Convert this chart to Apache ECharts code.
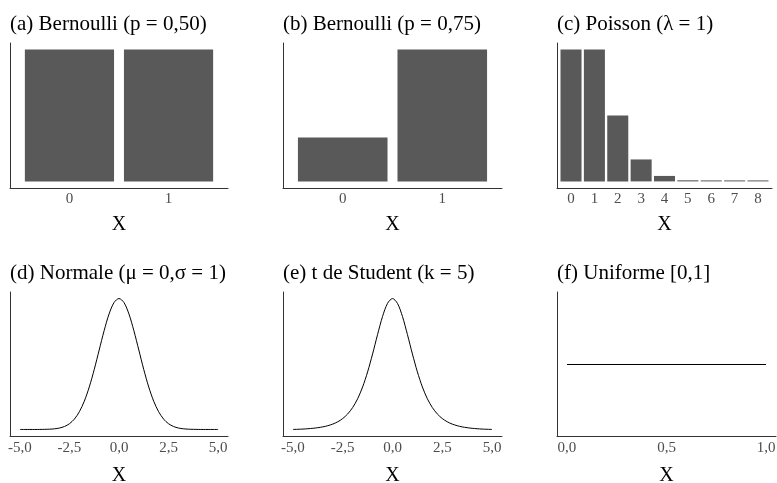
<!DOCTYPE html>
<html>
<head>
<meta charset="utf-8">
<script src="https://cdn.jsdelivr.net/npm/echarts@6/dist/echarts.min.js"></script>
<style>html,body{margin:0;padding:0;background:#fff}#c{width:777px;height:483px}</style>
</head>
<body>
<div id="c"></div>
<script>
// ---- data ----
const titles = ['(a) Bernoulli (p = 0,50)', '(b) Bernoulli (p = 0,75)', '(c) Poisson (λ = 1)',
                '(d) Normale (μ = 0,σ = 1)', '(e) t de Student (k = 5)', '(f) Uniforme [0,1]'];
const bernA_x = [0, 1];
const bernA_y = [0.5, 0.5];
const bernB_x = [0, 1];
const bernB_y = [0.25, 0.75];
const pois_x = [0, 1, 2, 3, 4, 5, 6, 7, 8];
const pois_y = [0.3679, 0.3679, 0.1839, 0.0613, 0.0153, 0.0031, 0.0005, 0.0001, 0.0000];
const dens_x = [-5,-4.75,-4.5,-4.25,-4,-3.75,-3.5,-3.25,-3,-2.75,-2.5,-2.25,-2,-1.75,-1.5,-1.25,-1,-0.75,-0.5,-0.25,0,
                0.25,0.5,0.75,1,1.25,1.5,1.75,2,2.25,2.5,2.75,3,3.25,3.5,3.75,4,4.25,4.5,4.75,5];
const norm_y = [0.0000,0.0000,0.0000,0.0000,0.0001,0.0004,0.0009,0.0020,0.0044,0.0091,0.0175,0.0317,0.0540,0.0863,0.1295,0.1826,0.2420,0.3011,0.3521,0.3867,0.3989,
                0.3867,0.3521,0.3011,0.2420,0.1826,0.1295,0.0863,0.0540,0.0317,0.0175,0.0091,0.0044,0.0020,0.0009,0.0004,0.0001,0.0000,0.0000,0.0000,0.0000];
const t5_y = [0.0018,0.0023,0.0029,0.0039,0.0051,0.0069,0.0092,0.0126,0.0173,0.0239,0.0333,0.0466,0.0651,0.0905,0.1245,0.1679,0.2197,0.2757,0.3279,0.3657,0.3796,
              0.3657,0.3279,0.2757,0.2197,0.1679,0.1245,0.0905,0.0651,0.0466,0.0333,0.0239,0.0173,0.0126,0.0092,0.0069,0.0051,0.0039,0.0029,0.0023,0.0018];
const unif_x = [0, 1];
const unif_y = [1, 1];
const ticksBern = [0, 1];
const ticksPois = [0, 1, 2, 3, 4, 5, 6, 7, 8];
const ticksDens = [-5, -2.5, 0, 2.5, 5];
const ticksUnif = [0, 0.5, 1];

// ---- layout ----
const SERIF = "'Liberation Serif', 'DejaVu Serif', serif";
const grids = [
  {left: 10,  top: 43,  width: 218, height: 145},
  {left: 283, top: 43,  width: 219, height: 145},
  {left: 557, top: 43,  width: 215, height: 145},
  {left: 10,  top: 292, width: 218, height: 144},
  {left: 283, top: 292, width: 219, height: 144},
  {left: 557, top: 292, width: 219, height: 144}
];
const xr = [[-0.6, 1.6], [-0.6, 1.6], [-0.6, 8.6], [-5.5, 5.5], [-5.5, 5.5], [-0.05, 1.05]];
const yr = [[-0.025, 0.525], [-0.0375, 0.7875], [-0.0184, 0.3863], [-0.0199, 0.4188], [-0.0171, 0.3985], [0, 2.014]];
const xticks = [ticksBern, ticksBern, ticksPois, ticksDens, ticksDens, ticksUnif];
const fmtInt = v => String(Math.round(v));
const fmtDec = v => v.toFixed(1).replace('.', ',');
const fmts = [fmtInt, fmtInt, fmtInt, fmtDec, fmtDec, fmtDec];
const nameGaps = [27, 27, 27, 30, 30, 30];
const labelMargins = [4, 4, 4, 5, 5, 5];

const option = {
  animation: false,
  backgroundColor: '#fff',
  title: titles.map((t, i) => ({
    text: t, left: grids[i].left, top: grids[i].top - 29, padding: 0,
    textStyle: {fontFamily: SERIF, fontSize: 21, fontWeight: 'normal', color: '#000'}
  })),
  grid: grids.map(g => Object.assign({containLabel: false, outerBoundsMode: 'none'}, g)),
  xAxis: grids.map((g, i) => ({
    type: 'value', gridIndex: i, min: xr[i][0], max: xr[i][1],
    name: 'X', nameLocation: 'middle', nameGap: nameGaps[i],
    nameTextStyle: {fontFamily: SERIF, fontSize: 20, color: '#000'},
    axisLine: {show: true, onZero: false, lineStyle: {color: '#333', width: 1}},
    axisTick: {show: false},
    splitLine: {show: false},
    axisLabel: {customValues: xticks[i], formatter: fmts[i], margin: labelMargins[i],
                fontFamily: SERIF, fontSize: 15, color: '#4d4d4d'}
  })),
  yAxis: grids.map((g, i) => ({
    type: 'value', gridIndex: i, min: yr[i][0], max: yr[i][1],
    axisLine: {show: true, onZero: false, lineStyle: {color: '#333', width: 1}},
    axisTick: {show: false}, axisLabel: {show: false}, splitLine: {show: false}
  })),
  series: []
};

function barW(i) { return 0.9 * grids[i].width / (xr[i][1] - xr[i][0]); }
function pairs(xs, ys) { return xs.map((x, k) => [x, ys[k]]); }

option.series.push(
  {type: 'bar', xAxisIndex: 0, yAxisIndex: 0, data: pairs(bernA_x, bernA_y), barWidth: barW(0), itemStyle: {color: '#595959'}},
  {type: 'bar', xAxisIndex: 1, yAxisIndex: 1, data: pairs(bernB_x, bernB_y), barWidth: barW(1), itemStyle: {color: '#595959'}},
  {type: 'bar', xAxisIndex: 2, yAxisIndex: 2, data: pairs(pois_x, pois_y), barWidth: barW(2), barMinHeight: 1, itemStyle: {color: '#595959'}},
  {type: 'line', xAxisIndex: 3, yAxisIndex: 3, data: pairs(dens_x, norm_y), showSymbol: false, smooth: 0.3,
   lineStyle: {color: '#000', width: 1}},
  {type: 'line', xAxisIndex: 4, yAxisIndex: 4, data: pairs(dens_x, t5_y), showSymbol: false, smooth: 0.3,
   lineStyle: {color: '#000', width: 1}},
  {type: 'line', xAxisIndex: 5, yAxisIndex: 5, data: pairs(unif_x, unif_y), showSymbol: false,
   lineStyle: {color: '#000', width: 1}}
);

const chart = echarts.init(document.getElementById('c'), null, {renderer: 'canvas'});
chart.setOption(option);
</script>
</body>
</html>
